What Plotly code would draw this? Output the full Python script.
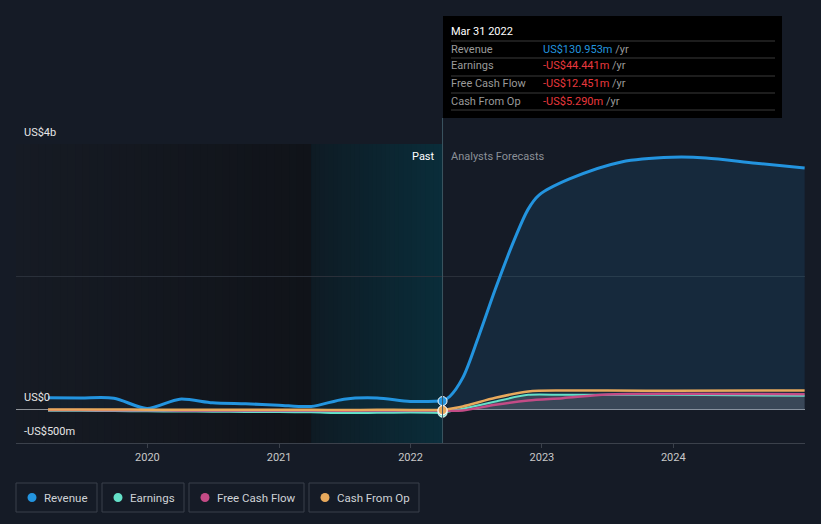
import plotly.graph_objects as go
import pandas as pd

# ---------------- data (US$ millions) ----------------
past_dates = ["2019-03-31", "2019-06-30", "2019-09-30", "2019-12-31", "2020-03-31",
              "2020-06-30", "2020-09-30", "2020-12-31", "2021-03-31", "2021-06-30",
              "2021-09-30", "2021-12-31", "2022-03-31"]
rev_past = [180, 178, 174, 20, 160, 105, 90, 70, 50, 160, 178, 125, 131]
earn_past = [-10, -12, -15, -20, -22, -25, -28, -30, -35, -45, -42, -38, -44]
fcf_past = [-5, -5, -6, -8, -9, -10, -10, -10, -10, -14, -10, -10, -12]
cfo_past = [5, 5, 4, 2, 2, 1, 1, 0, 0, -5, 0, -3, -5]

rev_fc_dates = ["2022-03-31", "2022-04-20", "2022-05-26", "2022-07-09", "2022-08-25",
                "2022-10-12", "2022-11-24", "2022-12-24", "2023-03-17", "2023-08-10",
                "2023-12-28", "2024-04-01", "2024-08-18", "2024-12-31"]
rev_fc = [131, 200, 480, 1100, 1820, 2500, 3020, 3230, 3470, 3730, 3800, 3790, 3710, 3640]

oth_fc_dates = ["2022-03-31", "2022-05-26", "2022-08-25", "2022-11-24", "2023-02-28",
                "2023-07-01", "2024-01-01", "2024-12-31"]
earn_fc = [-44, 15, 125, 225, 225, 225, 225, 210]
fcf_fc = [-12, -10, 75, 140, 175, 230, 240, 235]
cfo_fc = [-5, 50, 180, 275, 290, 290, 285, 290]

x_ticks = ["2020-01-01", "2021-01-01", "2022-01-01", "2023-01-01", "2024-01-01"]
y_labels = [(4000, "US$4b"), (0, "US$0"), (-500, "-US$500m")]

tip_title = "Mar 31 2022"
tip_rows = [("Revenue", "US$130.953m", "#2394df"),
            ("Earnings", "-US$44.441m", "#e8383d"),
            ("Free Cash Flow", "-US$12.451m", "#e8383d"),
            ("Cash From Op", "-US$5.290m", "#e8383d")]
legend_items = [("Revenue", "#2394df"), ("Earnings", "#64e0c8"),
                ("Free Cash Flow", "#c44b86"), ("Cash From Op", "#e8a95c")]

# ---------------- styles ----------------
W, H = 821, 524
ML, MR, MT, MB = 16, 16, 144, 81
PW, PH = W - ML - MR, H - MT - MB
BG = "#151b26"
FONT = "Roboto"
C_REV, C_EARN, C_FCF, C_CFO = "#2394df", "#64e0c8", "#c44b86", "#e8a95c"
YMIN, YMAX = -500, 4000
X0, X1 = "2019-01-01", "2025-01-01"
BAND0 = "2021-03-31"
NOW = past_dates[-1]


def px(xp):
    return (xp - ML) / PW


def py(yp):
    return (H - MB - yp) / PH


def lerp_col(c0, c1, t):
    return "rgb(%d,%d,%d)" % tuple(round(a + (b - a) * t) for a, b in zip(c0, c1))


shapes = []
annotations = []


def gradient_strips(start, end, c0, c1, n):
    # overlapping strips (each drawn to the region end) so no seams appear
    edges = pd.date_range(pd.Timestamp(start), pd.Timestamp(end), periods=n + 1)
    for i in range(n):
        col = lerp_col(c0, c1, (i + 0.5) / n)
        shapes.append(dict(type="rect", xref="x", yref="paper",
                           x0=edges[i].strftime("%Y-%m-%d %H:%M"),
                           x1=edges[-1].strftime("%Y-%m-%d %H:%M"), y0=0, y1=1,
                           fillcolor=col, line=dict(width=0), layer="below"))


gradient_strips(X0, BAND0, (22, 27, 36), (16, 19, 25), 40)
gradient_strips(BAND0, NOW, (14, 27, 36), (10, 45, 58), 30)

fig = go.Figure()

# revenue
fig.add_trace(go.Scatter(x=past_dates, y=rev_past, mode="lines",
                         line=dict(color=C_REV, width=3, shape="spline", smoothing=0.8),
                         fill="tozeroy", fillcolor="rgba(35,148,223,0.06)",
                         hoverinfo="skip", showlegend=False))
fig.add_trace(go.Scatter(x=rev_fc_dates, y=rev_fc, mode="lines",
                         line=dict(color=C_REV, width=3, shape="spline", smoothing=0.9),
                         fill="tozeroy", fillcolor="rgba(35,148,223,0.12)",
                         hoverinfo="skip", showlegend=False))

# earnings forecast grey area
fig.add_trace(go.Scatter(x=oth_fc_dates, y=earn_fc, mode="lines",
                         line=dict(color=C_EARN, width=2, shape="spline", smoothing=0.8),
                         fill="tozeroy", fillcolor="rgba(150,152,160,0.28)",
                         hoverinfo="skip", showlegend=False))

for xs, ys, c in [(past_dates, earn_past, C_EARN), (past_dates, fcf_past, C_FCF),
                  (past_dates, cfo_past, C_CFO),
                  (oth_fc_dates, fcf_fc, C_FCF), (oth_fc_dates, cfo_fc, C_CFO)]:
    fig.add_trace(go.Scatter(x=xs, y=ys, mode="lines",
                             line=dict(color=c, width=2.5, shape="spline", smoothing=0.8),
                             hoverinfo="skip", showlegend=False))

# markers at current point
for v, c in [(earn_past[-1], C_EARN), (fcf_past[-1], C_FCF), (cfo_past[-1], C_CFO),
             (rev_past[-1], C_REV)]:
    fig.add_trace(go.Scatter(x=[NOW], y=[v], mode="markers",
                             marker=dict(color=c, size=9, line=dict(color="white", width=1)),
                             hoverinfo="skip", showlegend=False))

# vertical hover line
shapes.append(dict(type="line", xref="x", yref="paper", x0=NOW, x1=NOW,
                   y0=0, y1=py(118), line=dict(color="#3b5560", width=1), layer="above"))

# y labels
for v, t in y_labels:
    annotations.append(dict(x=px(22), xref="paper", y=v, yref="y", text=t,
                            showarrow=False, xanchor="left", yanchor="middle", yshift=12,
                            font=dict(family=FONT, size=11, color="#e6e6e6")))

# Past / Forecast labels
annotations.append(dict(x=NOW, xref="x", y=1, yref="paper", text="Past", showarrow=False,
                        xanchor="right", yanchor="middle", xshift=-6, yshift=-12,
                        font=dict(family=FONT, size=11, color="#ffffff")))
annotations.append(dict(x=NOW, xref="x", y=1, yref="paper", text="Analysts Forecasts",
                        showarrow=False, xanchor="left", yanchor="middle", xshift=6,
                        yshift=-12, font=dict(family=FONT, size=11, color="#8b9097")))

# tooltip box
shapes.append(dict(type="rect", xref="paper", yref="paper", x0=px(443), x1=px(782),
                   y0=py(118), y1=py(16), fillcolor="#000000", line=dict(width=0),
                   layer="above"))
annotations.append(dict(x=px(449), xref="paper", y=py(31), yref="paper", text=tip_title,
                        showarrow=False, xanchor="left", yanchor="middle",
                        font=dict(family=FONT, size=11, color="#ffffff")))
row_y = [49, 66, 84, 101]
sep_y = [41, 58, 76, 93, 110]
for yy in sep_y:
    shapes.append(dict(type="line", xref="paper", yref="paper", x0=px(451), x1=px(775),
                       y0=py(yy), y1=py(yy), line=dict(color="#3a3a3a", width=1),
                       layer="above"))
for (lab, val, col), yy in zip(tip_rows, row_y):
    annotations.append(dict(x=px(449), xref="paper", y=py(yy), yref="paper", text=lab,
                            showarrow=False, xanchor="left", yanchor="middle",
                            font=dict(family=FONT, size=11, color="#9a9a9a")))
    annotations.append(dict(x=px(541), xref="paper", y=py(yy), yref="paper",
                            text=f"<span style='color:{col}'>{val}</span> /yr",
                            showarrow=False, xanchor="left", yanchor="middle",
                            font=dict(family=FONT, size=11, color="#9a9a9a")))

# legend boxes
box_x = [(16, 97), (102, 184), (189, 304), (309, 419)]
for (name, col), (a, b) in zip(legend_items, box_x):
    shapes.append(dict(type="rect", xref="paper", yref="paper", x0=px(a), x1=px(b),
                       y0=py(512), y1=py(483), line=dict(color="#3b414b", width=1),
                       fillcolor="rgba(0,0,0,0)"))
    shapes.append(dict(type="circle", xref="paper", yref="paper",
                       xsizemode="pixel", ysizemode="pixel",
                       xanchor=px(a + 16), yanchor=py(497.5),
                       x0=-4.5, x1=4.5, y0=-4.5, y1=4.5,
                       fillcolor=col, line=dict(width=0)))
    annotations.append(dict(x=px(a + 26), xref="paper", y=py(497.5), yref="paper",
                            text=name, showarrow=False, xanchor="left", yanchor="middle",
                            font=dict(family=FONT, size=11.5, color="#cfd2d6")))

fig.update_layout(
    width=W, height=H, margin=dict(l=ML, r=MR, t=MT, b=MB),
    paper_bgcolor=BG, plot_bgcolor=BG, showlegend=False,
    font=dict(family=FONT, color="#c8c8c8"),
    shapes=shapes, annotations=annotations,
    xaxis=dict(type="date", range=[X0, X1], tickvals=x_ticks, tickformat="%Y",
               showgrid=False, zeroline=False, showline=True, linecolor="#3b414b",
               ticks="outside", ticklen=4, tickcolor="#3b414b",
               tickfont=dict(family=FONT, size=11, color="#c8c8c8")),
    yaxis=dict(range=[YMIN, YMAX], tickvals=[0, 2000, 4000], showticklabels=False,
               showgrid=True, gridcolor="#2a303a", zeroline=True, zerolinecolor="#8e9298",
               zerolinewidth=1, fixedrange=True),
    hovermode=False,
)

fig.write_html("out.html")
